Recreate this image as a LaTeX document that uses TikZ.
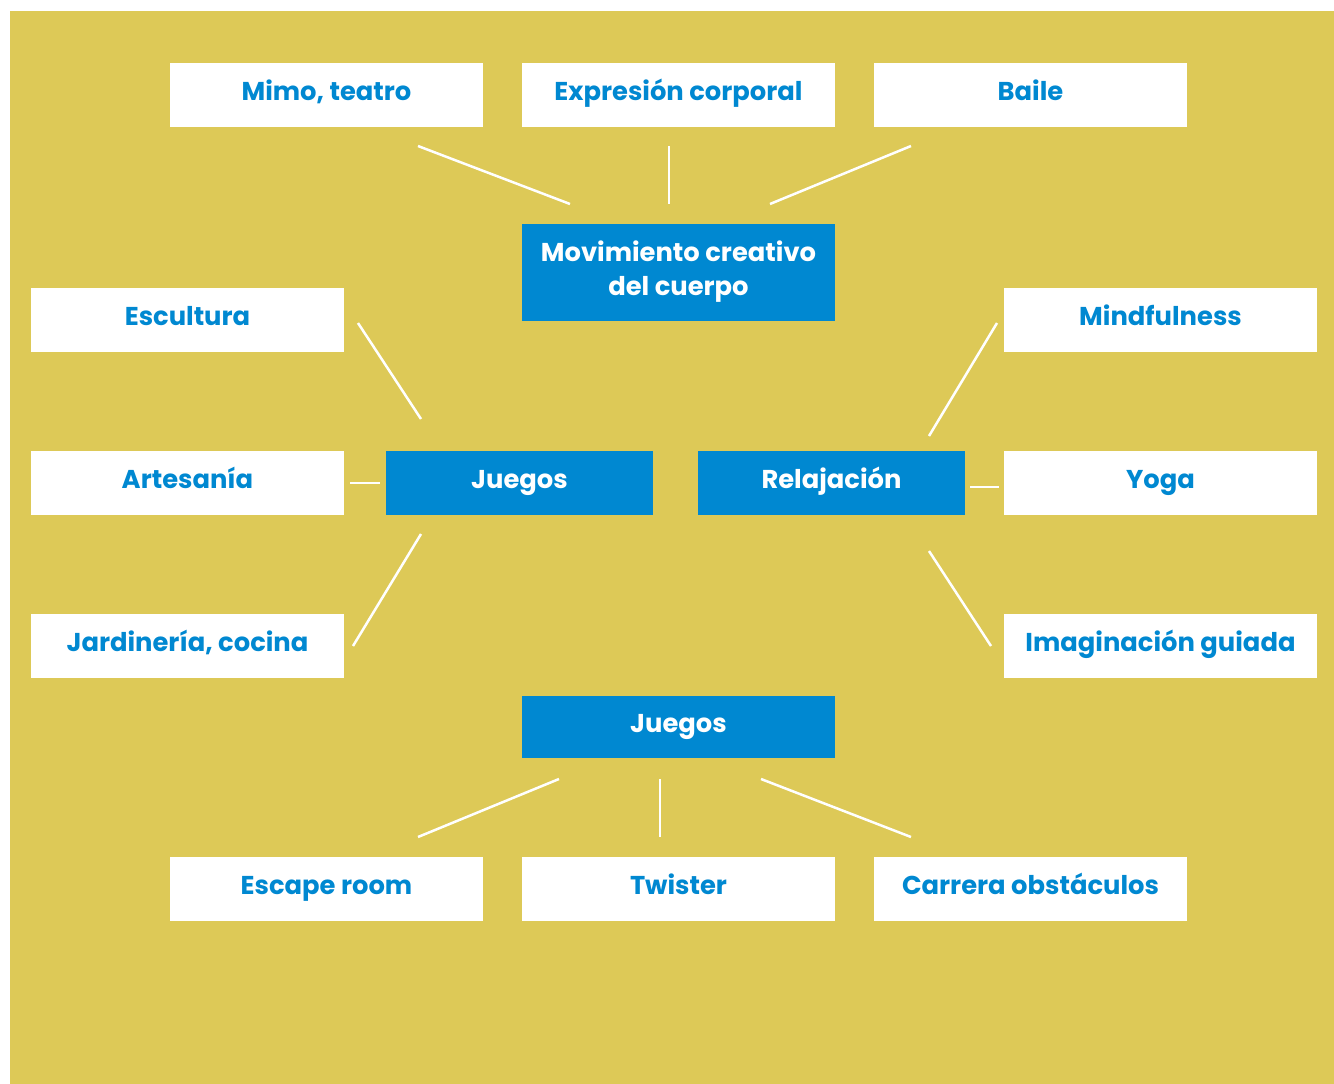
\documentclass[tikz,border=0pt]{standalone}
\usepackage{fontspec}
\setmainfont{Poppins}
\definecolor{bgyellow}{RGB}{221,201,87}
\definecolor{mblue}{RGB}{0,136,209}
\begin{document}
\begin{tikzpicture}[x=1pt,y=-1pt,
  wbox/.style={draw=none,fill=white,minimum width=313pt,minimum height=64pt,inner sep=0pt,
    text=mblue,font=\fontsize{25.8}{30}\selectfont\bfseries,text height=21pt,text depth=10pt},
  bbox/.style={draw=none,fill=mblue,minimum width=313pt,minimum height=64pt,inner sep=0pt,
    text=white,font=\fontsize{25.8}{30}\selectfont\bfseries,text height=21pt,text depth=10pt},
  conn/.style={draw=white,line width=2.5pt}]
\useasboundingbox (0,0) rectangle (1334,1084);
\fill[white] (0,0) rectangle (1334,1084);
\fill[bgyellow] (10,11) rectangle (1334,1084);
% top row
\node[wbox] (mimo) at (326.5,95) {Mimo, teatro};
\node[wbox] (expr) at (678.5,95) {Expresión corporal};
\node[wbox] (baile) at (1030.5,95) {Baile};
% central top
\node[bbox,minimum height=97pt] (mov) at (678.5,272.5) {};
\node[text=white,font=\fontsize{25.8}{34}\selectfont\bfseries,align=center,inner sep=0pt] (movt) at (678.5,272) {Movimiento creativo\\del cuerpo};
% left column
\node[wbox] (escu) at (187.5,320) {Escultura};
\node[wbox] (arte) at (187.5,483) {Artesanía};
\node[wbox] (jard) at (187.5,646) {Jardinería, cocina};
% right column
\node[wbox] (mind) at (1160.5,320) {Mindfulness};
\node[wbox] (yoga) at (1160.5,483) {Yoga};
\node[wbox] (imag) at (1160.5,646) {Imaginación guiada};
% middle blue
\node[bbox,minimum width=267pt] (jueg) at (519.5,483) {Juegos};
\node[bbox,minimum width=267pt] (rela) at (831.5,483) {Relajación};
% bottom blue
\node[bbox,minimum height=62pt] (jueb) at (678.5,727) {Juegos};
% bottom row
\node[wbox] (esca) at (326.5,889) {Escape room};
\node[wbox] (twis) at (678.5,889) {Twister};
\node[wbox] (carr) at (1030.5,889) {Carrera obstáculos};
% connector end points
\coordinate (c1a) at (418,146); \coordinate (c1b) at (570,204);
\coordinate (c2a) at (669,146); \coordinate (c2b) at (669,204);
\coordinate (c3a) at (911,146); \coordinate (c3b) at (770,204);
\coordinate (c4a) at (358,323); \coordinate (c4b) at (421,419);
\coordinate (c5a) at (350,483); \coordinate (c5b) at (380,483);
\coordinate (c6a) at (353,646); \coordinate (c6b) at (421,534);
\coordinate (c7a) at (997,323); \coordinate (c7b) at (929,436);
\coordinate (c8a) at (999,487); \coordinate (c8b) at (970,487);
\coordinate (c9a) at (991,646); \coordinate (c9b) at (929,551);
\coordinate (c10a) at (418,837); \coordinate (c10b) at (559,779);
\coordinate (c11a) at (660,837); \coordinate (c11b) at (660,779);
\coordinate (c12a) at (911,837); \coordinate (c12b) at (761,779);
\foreach \i in {1,...,12} {\draw[conn] (c\i a) -- (c\i b);}
\end{tikzpicture}
\end{document}
